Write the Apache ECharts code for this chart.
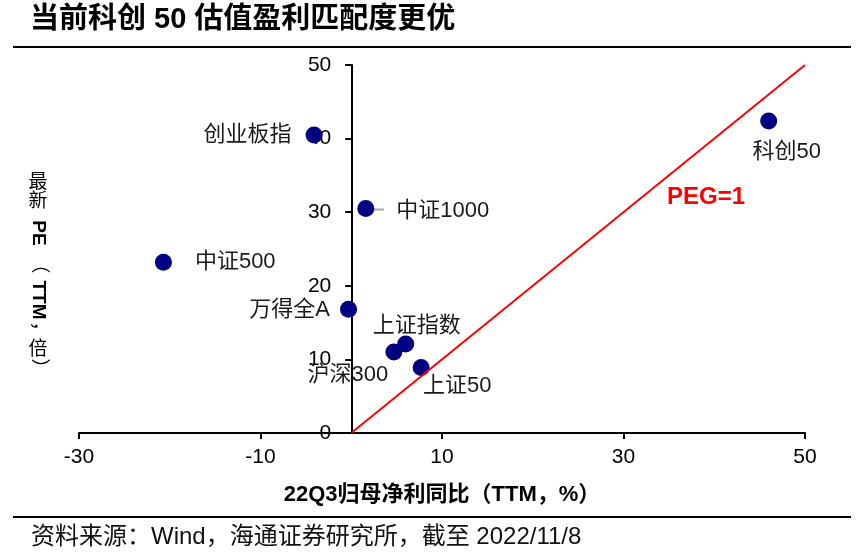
<!DOCTYPE html>
<html>
<head>
<meta charset="utf-8">
<script src="https://cdn.jsdelivr.net/npm/echarts@6.0.0/dist/echarts.min.js"></script>
<style>
  html, body { margin: 0; padding: 0; background: #fff; }
  #main { width: 862px; height: 558px; }
</style>
</head>
<body>
<div id="main"></div>
<script>
// 指数名称、22Q3归母净利同比(TTM,%)、最新PE(TTM,倍)
const names = ['科创50', '创业板指', '中证1000', '中证500', '万得全A', '上证指数', '沪深300', '上证50']
const growth = [46.0, -4.1, 1.6, -20.7, -0.3, 6.0, 4.7, 7.7]
const pe = [42.4, 40.5, 30.5, 23.2, 16.8, 12.1, 11.0, 8.9]

// PEG=1 参考线
const pegX = [0, 50]
const pegY = [0, 50]

const xTicks = [-30, -10, 10, 30, 50]

const FONT = "'Liberation Sans', 'Noto Sans CJK SC', sans-serif"
const GRID = { left: 79, right: 57, top: 65, bottom: 125 }

// 标签摆放
const labelCfg = {
  '科创50': { position: 'inside', offset: [18, 31] },
  '创业板指': { position: 'left', distance: 14 },
  '中证1000': { position: 'right', distance: 22, offset: [0, 2] },
  '中证500': { position: 'right', distance: 23 },
  '万得全A': { position: 'left', distance: 10, offset: [0, 1] },
  '上证指数': { position: 'inside', offset: [11, -18] },
  '沪深300': { position: 'inside', offset: [-46, 23] },
  '上证50': { position: 'inside', offset: [36, 18] }
}

const scatterData = names.map((n, i) => ({
  name: n,
  value: [growth[i], pe[i]],
  label: labelCfg[n]
}))

const chart = echarts.init(document.getElementById('main'))

const option = {
  animation: false,
  backgroundColor: '#fff',
  grid: GRID,
  xAxis: {
    type: 'value',
    min: -30,
    max: 50,
    interval: 10,
    axisLine: { onZero: false, lineStyle: { color: '#000', width: 2 } },
    axisTick: { show: true, length: 6, customValues: xTicks, lineStyle: { color: '#000', width: 2 } },
    axisLabel: { customValues: xTicks, margin: 14, fontSize: 21, color: '#000', fontFamily: FONT },
    splitLine: { show: false },
    name: '22Q3归母净利同比（TTM，%）',
    nameLocation: 'middle',
    nameGap: 51,
    nameTextStyle: { fontSize: 22, fontWeight: 'bold', color: '#000', fontFamily: FONT }
  },
  yAxis: {
    type: 'value',
    min: 0,
    max: 50,
    interval: 10,
    axisLine: { show: true, onZero: false, lineStyle: { color: '#000', width: 2 } },
    axisTick: { show: true, length: 6, lineStyle: { color: '#000', width: 2 } },
    axisLabel: { margin: 20, fontSize: 21, color: '#000', fontFamily: FONT },
    splitLine: { show: false }
  },
  series: [
    {
      type: 'scatter',
      symbolSize: 17,
      itemStyle: { color: '#000080', opacity: 1 },
      label: {
        show: true,
        formatter: '{b}',
        fontSize: 22,
        color: '#1a1a1a',
        fontFamily: FONT
      },
      data: scatterData,
      z: 2
    },
    {
      type: 'line',
      data: pegX.map((x, i) => [x, pegY[i]]),
      showSymbol: false,
      symbol: 'none',
      lineStyle: { color: '#ff0000', width: 2 },
      z: 3,
      silent: true
    }
  ]
}

chart.setOption(option)

// 纵轴移到 x=0 处
const zeroPx = chart.convertToPixel({ xAxisIndex: 0 }, 0)
chart.setOption({ yAxis: { offset: -(zeroPx - GRID.left) } })

// 中证1000 引线
const p1000 = chart.convertToPixel({ seriesIndex: 0 }, [growth[2], pe[2]])

// 纵轴名称（竖排）
const yNameParts = [
  { text: '最', y: 183, rot: 0, bold: false },
  { text: '新', y: 202, rot: 0, bold: false },
  { text: 'PE', y: 233, rot: -Math.PI / 2, bold: true },
  { text: '（', y: 264, rot: -Math.PI / 2, bold: false },
  { text: 'TTM', y: 300, rot: -Math.PI / 2, bold: true },
  { text: '，', y: 331, rot: -Math.PI / 2, bold: false },
  { text: '倍', y: 350, rot: 0, bold: false },
  { text: '）', y: 368, rot: -Math.PI / 2, bold: false }
]

const graphics = [
  {
    type: 'text', left: 30, top: 5,
    style: { text: '当前科创 50 估值盈利匹配度更优', fontSize: 29, fontWeight: 'bold', fill: '#000', fontFamily: FONT }
  },
  { type: 'line', shape: { x1: 13, y1: 47, x2: 851, y2: 47 }, style: { stroke: '#000', lineWidth: 2 } },
  { type: 'line', shape: { x1: 13, y1: 517, x2: 851, y2: 517 }, style: { stroke: '#000', lineWidth: 2 } },
  {
    type: 'text', left: 31, top: 525,
    style: { text: '资料来源：Wind，海通证券研究所，截至 2022/11/8', fontSize: 24, fill: '#111', fontFamily: FONT }
  },
  {
    type: 'text', x: 706, y: 197,
    style: { text: 'PEG=1', fontSize: 24, fontWeight: 'bold', fill: '#ff0000', fontFamily: FONT, align: 'center', verticalAlign: 'middle' }
  },
  {
    type: 'line', z: 1,
    shape: { x1: p1000[0], y1: p1000[1] + 1, x2: p1000[0] + 18, y2: p1000[1] + 1 },
    style: { stroke: '#a6a6a6', lineWidth: 2 }
  }
]

yNameParts.forEach(p => {
  graphics.push({
    type: 'text', x: 38, y: p.y, rotation: p.rot,
    style: {
      text: p.text, fontSize: 19, fontWeight: p.bold ? 'bold' : 'normal', fill: '#000',
      fontFamily: FONT, align: 'center', verticalAlign: 'middle'
    }
  })
})

chart.setOption({ graphic: graphics })
</script>
</body>
</html>
